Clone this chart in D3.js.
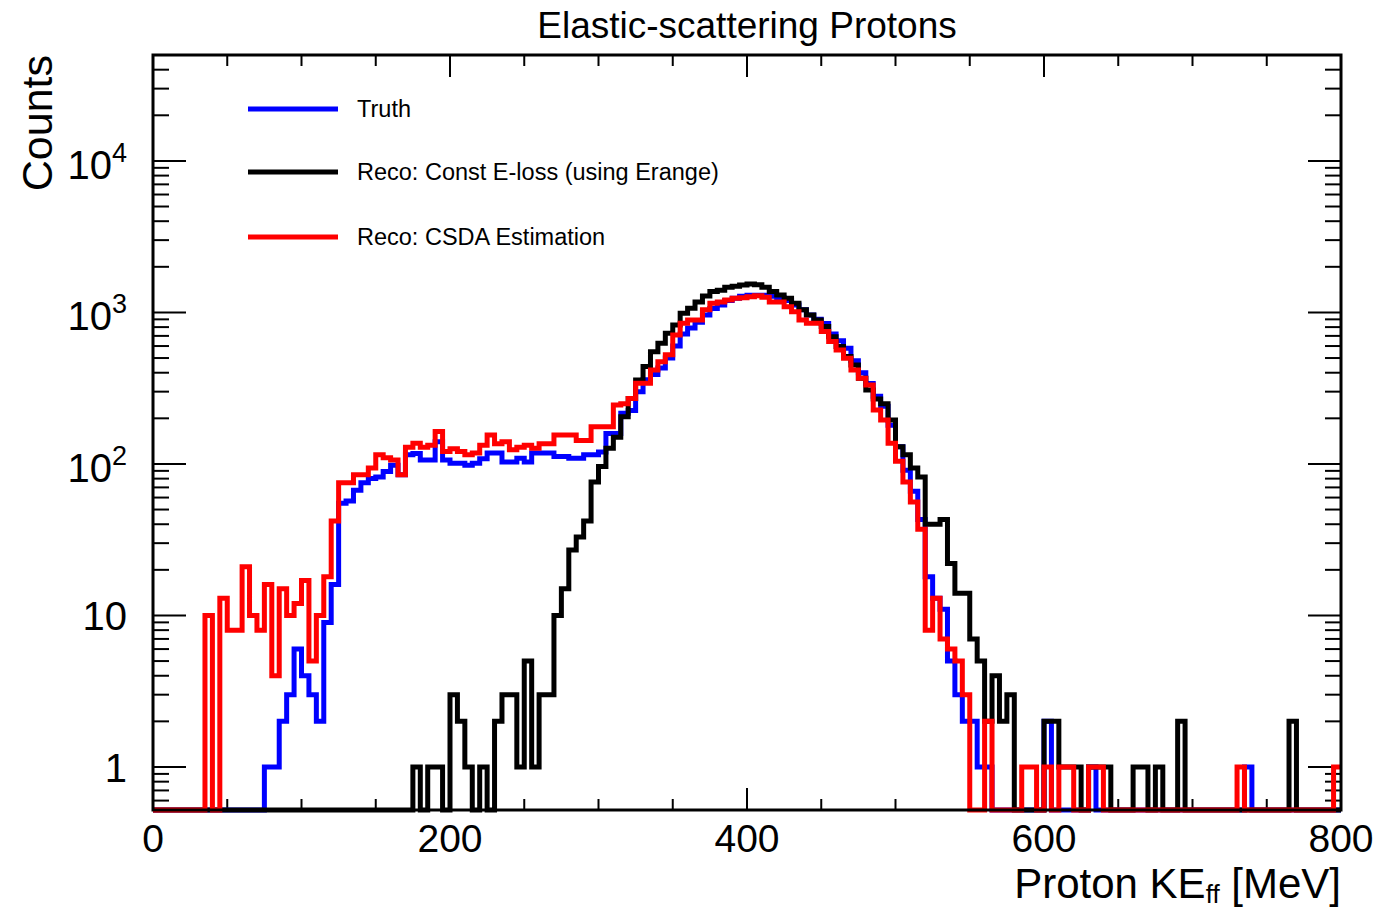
<!DOCTYPE html>
<html>
<head>
<meta charset="utf-8">
<title>Elastic-scattering Protons</title>
<script src="https://d3js.org/d3.v7.min.js"></script>
<style>
  body { margin: 0; background: #fff; }
  svg text { font-family: "Liberation Sans", Arial, Helvetica, sans-serif; fill: #000; }
</style>
</head>
<body>
<svg id="chart" width="1379" height="910"></svg>
<script>
// histogram binning: 160 bins of 5 MeV from 0 to 800
var binLow = 0, binWidth = 5, nBins = 160;

// bin contents (counts per bin)
var truth = [
  0,0,0,0,0,0,0,0,0,0,         0,0,0,0,0,1,1,2,3,6,
  4,3,2,9,16,55,57,67,75,80,   82,89,98,85,115,117,106,106,140,106,
  101,101,98,101,108,118,118,103,103,109,  103,118,118,118,112,112,109,109,115,115,
  120,159,159,216,225,300,360,390,430,500, 600,720,790,860,960,1060,1120,1200,1240,1280,
  1300,1300,1300,1280,1250,1200,1120,1040,960,900,  845,720,650,580,480,400,340,280,240,180,
  130,91,66,43,18,13,11,5,3,2, 2,1,1,0,0,0,0,0,0,0,
  2,0,0,0,0,0,1,0,0,0,         0,0,0,0,0,0,0,0,0,0,
  0,0,0,0,0,0,0,1,0,0,         0,0,0,0,0,0,0,0,0,0
];

var recoConst = [
  0,0,0,0,0,0,0,0,0,0,         0,0,0,0,0,0,0,0,0,0,
  0,0,0,0,0,0,0,0,0,0,         0,0,0,0,0,1,0,1,1,0,
  3,2,1,0,1,0,2,3,3,1,         5,1,3,3,10,15,27,33,42,76,
  96,127,150,205,270,358,439,551,626,729,  827,988,1066,1170,1285,1372,1400,1467,1490,1518,
  1540,1520,1467,1372,1305,1240,1149,1040,963,891,  806,692,595,511,450,368,308,268,250,195,
  130,115,94,82,40,40,43,22,14,14,  7,5,2,4,2,3,0,0,0,0,
  2,2,1,1,1,0,1,1,1,0,         0,0,1,1,0,1,0,0,2,0,
  0,0,0,0,0,0,0,0,0,0,         0,0,0,2,0,0,0,0,0,0
];

var recoCsda = [
  0,0,0,0,0,0,0,10,0,13,       8,8,21,10,8,16,4,15,10,12,
  17,5,10,18,42,75,75,85,85,94, 115,110,106,85,129,137,129,133,164,121,
  126,121,115,118,133,155,136,140,124,129, 133,127,136,136,155,155,155,143,143,176,
  176,176,245,250,270,341,341,417,473,525, 710,849,891,891,1040,1149,1170,1210,1240,1250,
  1271,1290,1260,1170,1170,1092,1012,891,849,849, 747,642,565,499,417,368,332,227,195,137,
  104,76,56,37,8,13,7,6,5,3,   0,0,2,0,0,0,0,1,1,0,
  1,0,1,1,0,0,1,1,0,0,         0,0,0,0,0,0,0,0,0,0,
  0,0,0,0,0,0,1,0,0,0,         0,0,0,0,0,0,0,0,0,1
];

var seriesNames = ["Truth", "Reco: Const E-loss (using Erange)", "Reco: CSDA Estimation"];
var seriesColors = ["#0000ff", "#000000", "#ff0000"];

var xTicksMajor = [0, 200, 400, 600, 800];
var yDecades = [1, 10, 100, 1000, 10000];
var yDecadeLabels = [["1", ""], ["10", ""], ["10", "2"], ["10", "3"], ["10", "4"]];

var frame = { left: 153, right: 1341, top: 55, bottom: 810 };

var svg = d3.select("#chart");

var x = d3.scaleLinear().domain([0, 800]).range([frame.left, frame.right]);
var y = d3.scaleLog().domain([0.52, 50000]).range([frame.bottom, frame.top]);

var edges = d3.range(nBins + 1).map(function(i) { return binLow + i * binWidth; });

// white frame background
svg.append("rect")
  .attr("x", frame.left).attr("y", frame.top)
  .attr("width", frame.right - frame.left).attr("height", frame.bottom - frame.top)
  .attr("fill", "#fff");

// ticks on all four sides, pointing inwards
var ticks = svg.append("g").attr("stroke", "#000").attr("stroke-width", 2);
var xMajorLen = 22, xMinorLen = 11, yMajorLen = 33, yMinorLen = 16;

d3.range(0, 801, 50).forEach(function(v) {
  var len = (v % 200 === 0) ? xMajorLen : xMinorLen;
  ticks.append("line").attr("x1", x(v)).attr("x2", x(v))
    .attr("y1", frame.bottom).attr("y2", frame.bottom - len);
  ticks.append("line").attr("x1", x(v)).attr("x2", x(v))
    .attr("y1", frame.top).attr("y2", frame.top + len);
});

var yMin = y.domain()[0], yMax = y.domain()[1];
[0.1, 1, 10, 100, 1000, 10000].forEach(function(dec) {
  for (var m = 1; m <= 9; m++) {
    var v = m * dec;
    if (v < yMin || v > yMax) continue;
    var len = (m === 1) ? yMajorLen : yMinorLen;
    ticks.append("line").attr("x1", frame.left).attr("x2", frame.left + len)
      .attr("y1", y(v)).attr("y2", y(v));
    ticks.append("line").attr("x1", frame.right).attr("x2", frame.right - len)
      .attr("y1", y(v)).attr("y2", y(v));
  }
});

// histograms (zero bins drawn on the bottom of the frame, like ROOT)
function histPoints(vals) {
  var pts = [];
  vals.forEach(function(v, i) {
    var yy = v > 0 ? y(v) : frame.bottom;
    pts.push([x(edges[i]), yy], [x(edges[i + 1]), yy]);
  });
  return pts;
}

svg.append("clipPath").attr("id", "clip")
  .append("rect").attr("x", frame.left).attr("y", frame.top)
  .attr("width", frame.right - frame.left).attr("height", frame.bottom - frame.top + 4);

var line = d3.line();
var hg = svg.append("g").attr("clip-path", "url(#clip)");
[truth, recoConst, recoCsda].forEach(function(vals, k) {
  hg.append("path")
    .attr("d", line(histPoints(vals)))
    .attr("fill", "none")
    .attr("stroke", seriesColors[k])
    .attr("stroke-width", 5)
    .attr("stroke-linejoin", "miter");
});

// frame
svg.append("rect")
  .attr("x", frame.left).attr("y", frame.top)
  .attr("width", frame.right - frame.left).attr("height", frame.bottom - frame.top)
  .attr("fill", "none").attr("stroke", "#000").attr("stroke-width", 3);

// x tick labels
svg.append("g").selectAll("text").data(xTicksMajor).enter().append("text")
  .attr("x", function(d) { return x(d); })
  .attr("y", 852)
  .attr("text-anchor", "middle")
  .attr("font-size", 39)
  .text(function(d) { return d; });

// y tick labels
yDecades.forEach(function(v, i) {
  var lab = yDecadeLabels[i];
  var t = svg.append("text")
    .attr("x", 127)
    .attr("y", y(v) + (lab[1] ? 18 : 15))
    .attr("text-anchor", "end")
    .attr("font-size", 40);
  t.append("tspan").text(lab[0]);
  if (lab[1]) {
    t.append("tspan").attr("dy", -17).attr("font-size", 27).text(lab[1]);
  }
});

// title
svg.append("text")
  .attr("x", 747).attr("y", 38)
  .attr("text-anchor", "middle")
  .attr("font-size", 37)
  .text("Elastic-scattering Protons");

// axis titles
var xt = svg.append("text")
  .attr("x", frame.right).attr("y", 898)
  .attr("text-anchor", "end")
  .attr("font-size", 42);
xt.append("tspan").text("Proton KE");
xt.append("tspan").attr("dy", 5).attr("font-size", 26).text("ff");
xt.append("tspan").attr("dy", -5).text(" [MeV]");

svg.append("text")
  .attr("transform", "translate(52," + frame.top + ") rotate(-90)")
  .attr("text-anchor", "end")
  .attr("font-size", 43)
  .text("Counts");

// legend
var legendY = [109, 172, 237];
var lg = svg.append("g");
seriesNames.forEach(function(name, k) {
  lg.append("line")
    .attr("x1", 248).attr("x2", 338)
    .attr("y1", legendY[k]).attr("y2", legendY[k])
    .attr("stroke", seriesColors[k]).attr("stroke-width", 5);
  lg.append("text")
    .attr("x", 357).attr("y", legendY[k] + 8)
    .attr("font-size", 23.5)
    .text(name);
});
</script>
</body>
</html>
